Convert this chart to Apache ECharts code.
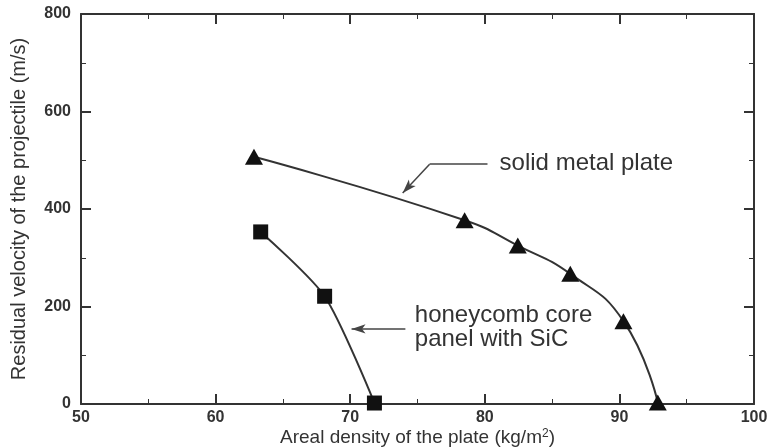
<!DOCTYPE html>
<html>
<head>
    <meta charset="utf-8">
    <title>Residual velocity vs areal density</title>
    <style>
        html, body { margin: 0; padding: 0; background: #fff; }
        #container { width: 769px; height: 448px; }
    </style>
</head>
<body>
<div id="container"></div>
<script src="https://cdn.jsdelivr.net/npm/echarts@6/dist/echarts.min.js"></script>
<script type="text/javascript">
    // data
    var solidX = [62.85, 78.5, 82.45, 86.35, 90.3, 92.85];
    var solidY = [507, 377, 325, 267, 170, 3];
    var honeyX = [63.35, 68.1, 71.8];
    var honeyY = [353, 221, 2];
    var xTicks = [50, 60, 70, 80, 90, 100];
    var yTicks = [0, 200, 400, 600, 800];

    var ink = '#333';
    var font = 'Liberation Sans, Arial, sans-serif';

    function pairs(xs, ys) {
        return xs.map(function (x, i) { return [x, ys[i]]; });
    }

    var myChart = echarts.init(document.getElementById('container'));

    var baseAxis = {
        axisLine: {show: true, onZero: false, lineStyle: {color: ink, width: 2}},
        axisTick: {show: true, inside: true, length: 10, lineStyle: {color: ink, width: 2}},
        minorTick: {show: true, splitNumber: 2, length: 5, lineStyle: {color: ink, width: 1}},
        splitLine: {show: false},
        axisLabel: {color: ink, fontWeight: 'bold', fontSize: 16, fontFamily: font}
    };

    var option = {
        animation: false,
        backgroundColor: '#fff',
        grid: {left: 81, right: 15, top: 14, bottom: 44, containLabel: false, outerBoundsMode: 'none'},
        xAxis: [
            echarts.util.merge({
                type: 'value', min: xTicks[0], max: xTicks[xTicks.length - 1], interval: 10,
                position: 'bottom',
                axisLabel: {margin: 6},
                name: 'Areal density of the plate (kg/m{sup|2})',
                nameLocation: 'middle', nameGap: 24, nameMoveOverlap: false,
                nameTextStyle: {color: ink, fontSize: 19, fontFamily: font,
                    rich: {sup: {fontSize: 12, verticalAlign: 'top', padding: [0, 0, 8, 0], color: ink, fontFamily: font}}}
            }, baseAxis, false),
            echarts.util.merge({
                type: 'value', min: xTicks[0], max: xTicks[xTicks.length - 1], interval: 10,
                position: 'top',
                axisLabel: {show: false}
            }, baseAxis, false)
        ],
        yAxis: [
            echarts.util.merge({
                type: 'value', min: yTicks[0], max: yTicks[yTicks.length - 1], interval: 200,
                position: 'left',
                axisLabel: {margin: 10},
                name: 'Residual velocity of the projectile (m/s)',
                nameLocation: 'middle', nameGap: 52, nameMoveOverlap: false,
                nameTextStyle: {color: ink, fontSize: 20, fontFamily: font}
            }, baseAxis, false),
            echarts.util.merge({
                type: 'value', min: yTicks[0], max: yTicks[yTicks.length - 1], interval: 200,
                position: 'right',
                axisLabel: {show: false}
            }, baseAxis, false)
        ],
        series: [
            {
                name: 'solid metal plate',
                type: 'line',
                data: pairs(solidX, solidY),
                smooth: 0.5,
                symbol: 'triangle',
                symbolSize: [18, 16],
                itemStyle: {color: '#111'},
                lineStyle: {color: ink, width: 2},
                markLine: {
                    silent: true,
                    symbol: ['none', 'none'],
                    label: {show: false},
                    lineStyle: {color: '#444', width: 1.5, type: 'solid'},
                    data: [
                        [{coord: [80.2, 492]}, {coord: [75.9, 492]}],
                        [{coord: [75.9, 492]}, {coord: [73.9, 433], symbol: 'arrow', symbolSize: [7, 14]}]
                    ]
                }
            },
            {
                name: 'honeycomb core panel with SiC',
                type: 'line',
                data: pairs(honeyX, honeyY),
                smooth: 0.25,
                symbol: 'rect',
                symbolSize: 15,
                itemStyle: {color: '#111'},
                lineStyle: {color: ink, width: 2},
                markLine: {
                    silent: true,
                    symbol: ['none', 'none'],
                    label: {show: false},
                    lineStyle: {color: '#444', width: 1.5, type: 'solid'},
                    data: [
                        [{coord: [74.1, 154]}, {coord: [70.1, 154], symbol: 'arrow', symbolSize: [7, 14]}]
                    ]
                }
            }
        ]
    };

    myChart.setOption(option, true);

    // annotation texts, placed from data coordinates
    var p1 = myChart.convertToPixel({gridIndex: 0}, [81.1, 493]);
    var p2 = myChart.convertToPixel({gridIndex: 0}, [74.8, 157]);
    myChart.setOption({
        graphic: [
            {type: 'text', x: p1[0], y: p1[1],
                style: {text: 'solid metal plate', fill: ink, font: '24px ' + font, textVerticalAlign: 'middle'}},
            {type: 'text', x: p2[0], y: p2[1],
                style: {text: 'honeycomb core\npanel with SiC', fill: ink, font: '24px ' + font,
                    lineHeight: 24, textVerticalAlign: 'middle'}}
        ]
    });
</script>
</body>
</html>
